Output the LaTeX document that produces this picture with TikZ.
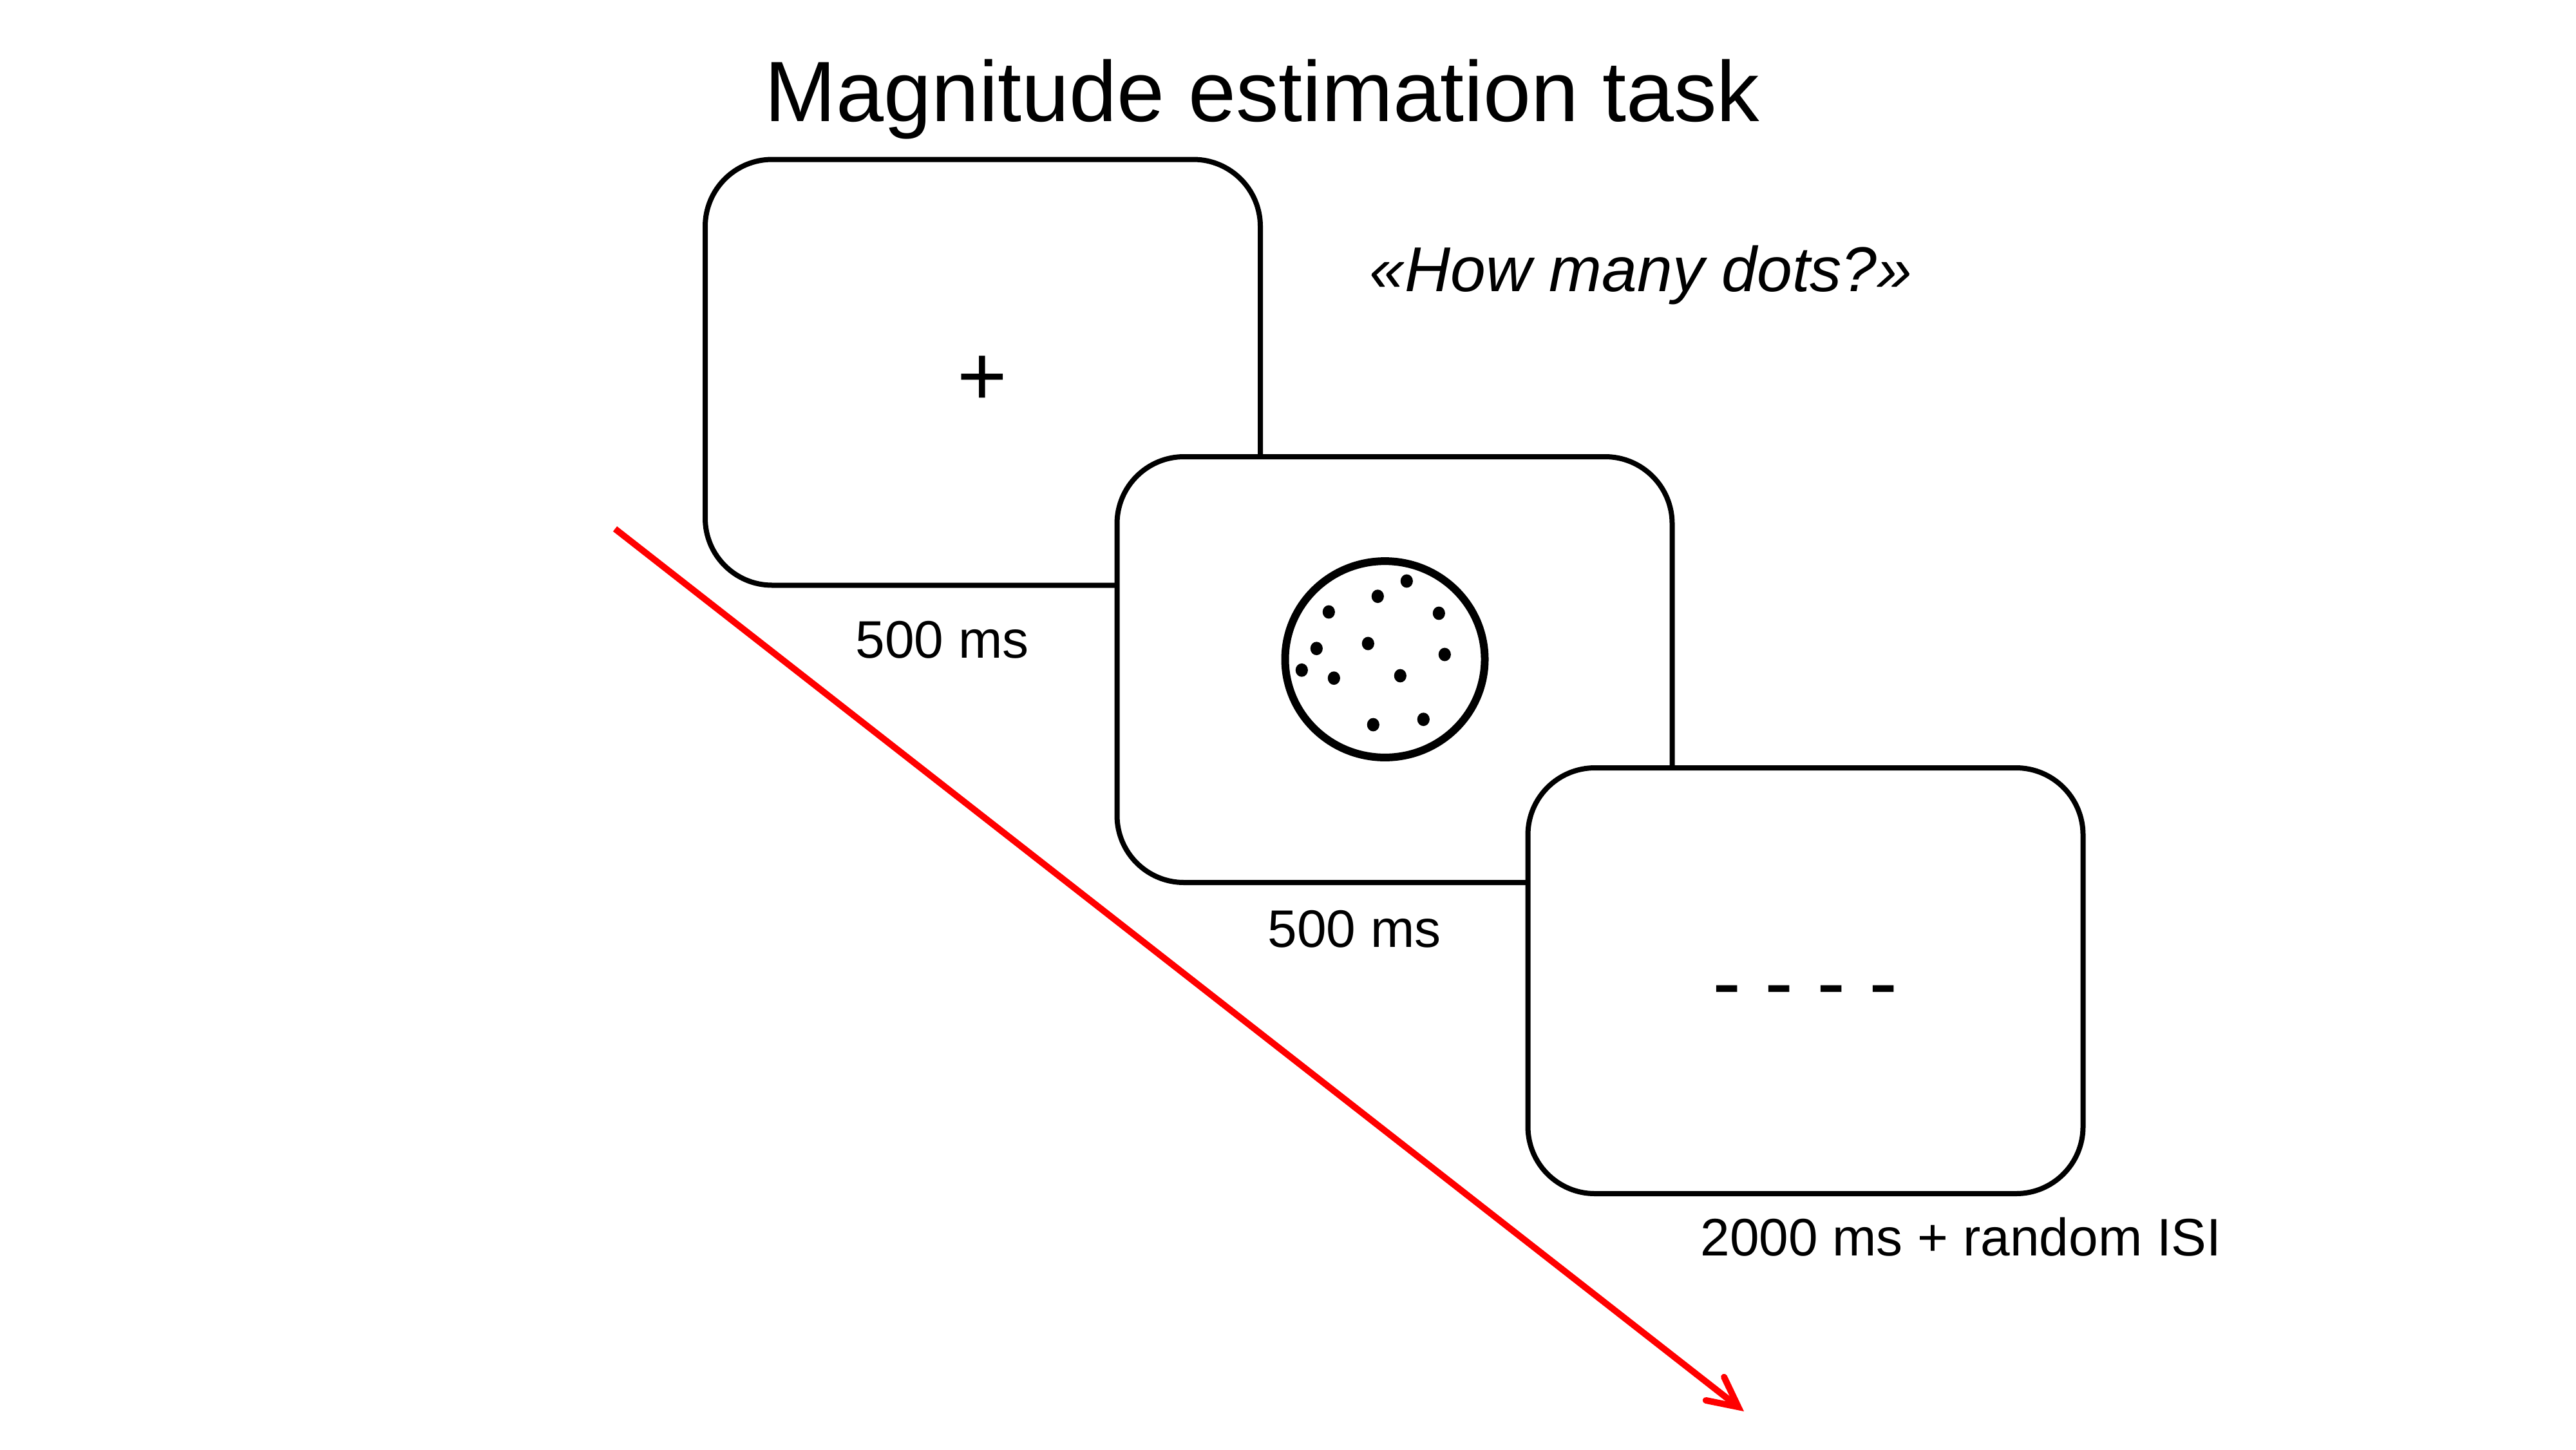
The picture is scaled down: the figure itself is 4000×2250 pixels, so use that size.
\documentclass[tikz,border=0pt]{standalone}
\usepackage{fontspec}
\setmainfont{Liberation Sans}
\usetikzlibrary{arrows.meta}
\begin{document}
\begin{tikzpicture}[x=0.25pt,y=-0.25pt,
  screen/.style={draw=black,line width=2pt,fill=white,rounded corners=26pt,
    minimum width=215.5pt,minimum height=165.25pt,inner sep=0pt,outer sep=0pt},
  lbl/.style={anchor=base,inner sep=0pt,font=\fontsize{20.5pt}{24pt}\selectfont},
  big/.style={anchor=base,inner sep=0pt,font=\fontsize{33.25pt}{38pt}\selectfont},
  dotstim/.style={fill=black,draw=none},
  timearrow/.style={draw=red,line width=2.5pt,
    -{Straight Barb[length=11.5pt,width=11.5pt,line cap=round,line join=miter]}}]
\useasboundingbox (0,0) rectangle (4000,2250);
% time arrow
\coordinate (tstart) at (955,821);
\coordinate (tend) at (2708,2191);
\draw[timearrow] (tstart) -- (tend);
% title
\node[big] (title) at (1960,188) {Magnitude estimation task};
\node[anchor=base,inner sep=0pt,font=\fontsize{24.6pt}{29pt}\selectfont\itshape] (question) at (2548,452) {«How many dots?»};
% screens
\node[screen] (b1) at (1526,578) {};
\node[big] (plus) at (1525,629) {+};
\node[lbl] (t1) at (1463,1021) {500 ms};
\node[screen] (b2) at (2165.5,1039.5) {};
\draw[line width=3pt] (2150.5,1023.5) ellipse [x radius=38.75pt,y radius=38.1pt];
\foreach \px/\py [count=\i] in {2184.3/902,2139.3/925.7,2063.3/950,2234.3/952,2124.3/999,2044.3/1006.7,2243.3/1016,2021.3/1040.3,2071.3/1052.7,2174.3/1049,2132.3/1125,2210.3/1116.7}
  \fill[dotstim] (\px,\py) ellipse [x radius=2.4pt,y radius=2.6pt];
\node[lbl] (t2) at (2103,1470) {500 ms};
\node[screen] (b3) at (2803.5,1522.5) {};
\node[big] (mask) at (2803,1570) {- - - -};
\node[lbl] (t3) at (3045,1949) {2000 ms + random ISI};
\end{tikzpicture}
\end{document}
